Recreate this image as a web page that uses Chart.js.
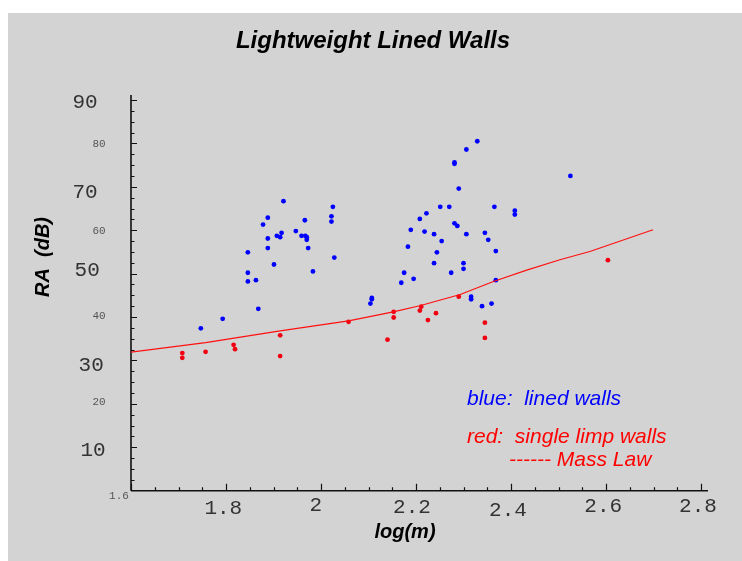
<!DOCTYPE html>
<html>
<head>
<meta charset="utf-8">
<script src="https://cdn.jsdelivr.net/npm/chart.js@4/dist/chart.umd.min.js"></script>
<style>
html,body{margin:0;padding:0;background:#ffffff;}
canvas{display:block;}
</style>
</head>
<body>
<canvas id="c" width="742" height="561"></canvas>
<script>
// ---- data ----
const blueLogM = [1.921,2.025,2.022,2.022,1.888,1.878,1.966,1.947,1.917,1.907,1.914,1.959,1.967,1.970,1.970,1.888,1.888,1.973,1.846,2.028,1.901,1.983,1.846,1.863,1.846,1.868,1.793,1.747,
  2.329,2.306,2.281,2.281,2.525,2.290,2.251,2.270,2.365,2.408,2.408,2.222,2.208,2.189,2.218,2.238,2.281,2.287,2.306,2.345,2.352,2.254,2.183,2.244,2.368,2.238,2.300,2.300,2.175,2.274,2.195,2.169,2.368,2.107,2.107,2.104,2.316,2.316,2.339,2.359];
const blueRA = [66.7,65.4,63.2,62.0,62.9,61.3,62.3,59.8,59.4,58.7,58.4,58.7,58.7,58.4,57.8,58.1,55.9,55.9,54.9,53.7,52.1,50.5,50.2,48.5,48.2,41.9,39.6,37.4,
  80.5,78.6,75.6,75.3,72.5,69.6,65.4,65.4,65.4,64.5,63.6,63.9,62.6,60.1,59.7,59.1,61.6,61.0,59.1,59.4,57.8,57.5,56.2,54.9,55.2,52.4,52.4,51.1,50.2,50.2,48.8,47.9,48.5,44.4,44.1,43.1,44.7,44.1,42.5,43.1];
const redLogM = [1.708,1.708,1.757,1.816,1.819,1.914,1.914,2.058,2.140,2.153,2.153,2.211,2.208,2.242,2.225,2.290,2.345,2.345,2.604];
const redRA   = [31.7,30.6,32.0,33.6,32.6,35.8,31.0,38.9,34.8,41.2,39.9,42.4,41.5,40.9,39.3,44.7,38.7,35.2,53.1];
const massLawLogM = [1.6,1.757,1.914,2.058,2.152,2.208,2.293,2.363,2.433,2.503,2.566,2.699];
const massLawRA   = [31.9,34.1,36.8,39.1,41.2,42.6,45.2,48.2,50.8,53.2,55.1,60.1];
const xTickLabels = [1.8, 2, 2.2, 2.4, 2.6, 2.8];
const xOriginLabel = '1.6';
const yBigLabels = [90, 70, 50, 30, 10];
const ySmallLabels = [80, 60, 40, 20];
const titleText = 'Lightweight Lined Walls';
const xTitle = 'log(m)';
const yTitle = 'RA  (dB)';
const noteBlue = 'blue:  lined walls';
const noteRed = 'red:  single limp walls';
const noteMass = '------ Mass Law';

const toPts = (xs, ys) => xs.map((x, i) => ({x: x, y: ys[i]}));

// ---- styles / label nudges ----
const xLabelDx = [-2.7, -5.3, -4, -3, -2.8, -3];
const xLabelCy = [16.8, 13.8, 15.3, 19, 14.3, 14.3];
const yBigDx = [-46, -46, -43.8, -39.8, -38];
const yBigDy = [1.5, 5, -4.4, 4, 2.7];
const ySmallDy = [0, 0, -1.4, -2];
const SANS = '"Liberation Sans", Arial, Helvetica, sans-serif';
const MONO = '"Liberation Mono", "Courier New", monospace';

const bgPlugin = {
  id: 'bg',
  beforeDraw(chart) {
    const c = chart.ctx;
    c.save();
    c.fillStyle = '#ffffff';
    c.fillRect(0, 0, chart.width, chart.height);
    c.fillStyle = '#d3d3d3';
    c.fillRect(8, 13, chart.width - 8, chart.height - 13);
    c.restore();
  }
};

const axesPlugin = {
  id: 'axesDraw',
  beforeDatasetsDraw(chart) {
    const c = chart.ctx, xs = chart.scales.x, ys = chart.scales.y;
    const x0 = xs.left, y0 = ys.bottom;
    c.save();
    c.strokeStyle = '#111111';
    c.lineWidth = 1.6;
    c.beginPath();
    c.moveTo(x0, ys.top); c.lineTo(x0, y0);
    c.moveTo(x0, y0); c.lineTo(xs.right, y0);
    c.stroke();
    c.lineWidth = 1.2;
    c.beginPath();
    for (let i = 1; i <= 36; i++) {
      const py = Math.round(ys.getPixelForValue(i * 2.5)) + 0.5;
      const len = (i % 4 === 0) ? 6 : 3.5;
      c.moveTo(x0, py); c.lineTo(x0 + len, py);
    }
    for (let i = 0; i <= 24; i++) {
      const px = Math.round(xs.getPixelForValue(1.6 + i * 0.05)) + 0.5;
      const len = (i % 4 === 0) ? 7 : 3.5;
      c.moveTo(px, y0); c.lineTo(px, y0 - len);
    }
    c.stroke();
    c.restore();
  },
  afterDatasetsDraw(chart) {
    const c = chart.ctx, xs = chart.scales.x, ys = chart.scales.y;
    const x0 = xs.left, y0 = ys.bottom;
    c.save();
    // title
    c.fillStyle = '#000000';
    c.textAlign = 'center';
    c.textBaseline = 'alphabetic';
    c.font = 'italic bold 24px ' + SANS;
    c.fillText(titleText, 373, 48);
    // x title
    c.font = 'italic bold 20px ' + SANS;
    c.fillText(xTitle, 405, 537.5);
    // y title
    c.save();
    c.translate(49, 257);
    c.rotate(-Math.PI / 2);
    c.fillText(yTitle, 0, 0);
    c.restore();
    // x tick labels
    c.fillStyle = '#333333';
    c.font = '21px ' + MONO;
    xTickLabels.forEach((v, i) => {
      const px = xs.getPixelForValue(v) + xLabelDx[i];
      c.fillText(String(v), px, y0 + xLabelCy[i] + 6.5);
    });
    // y big labels
    yBigLabels.forEach((v, i) => {
      const py = ys.getPixelForValue(v) + yBigDy[i];
      c.fillText(String(v), x0 + yBigDx[i], py + 6.5);
    });
    // small labels
    c.fillStyle = '#555555';
    c.font = '11px ' + MONO;
    ySmallLabels.forEach((v, i) => {
      const py = ys.getPixelForValue(v) + ySmallDy[i];
      c.fillText(String(v), x0 - 32, py + 3.5);
    });
    c.fillText(xOriginLabel, x0 - 12, y0 + 8.3);
    // notes
    c.textAlign = 'left';
    c.font = 'italic 21px ' + SANS;
    c.fillStyle = '#0000ff';
    c.fillText(noteBlue, 467, 405);
    c.fillStyle = '#ff0000';
    c.fillText(noteRed, 467, 443);
    c.fillText(noteMass, 509, 466);
    c.restore();
  }
};

new Chart(document.getElementById('c'), {
  type: 'scatter',
  data: {
    datasets: [
      {
        label: 'Mass Law',
        data: toPts(massLawLogM, massLawRA),
        showLine: true,
        borderColor: '#ff1010',
        borderWidth: 1.2,
        pointRadius: 0,
        tension: 0,
        fill: false
      },
      {
        label: 'single limp walls',
        data: toPts(redLogM, redRA),
        backgroundColor: '#f00010',
        borderWidth: 0,
        pointRadius: 2.4
      },
      {
        label: 'lined walls',
        data: toPts(blueLogM, blueRA),
        backgroundColor: '#0000ff',
        borderWidth: 0,
        pointRadius: 2.4
      }
    ]
  },
  options: {
    responsive: false,
    animation: false,
    devicePixelRatio: 1,
    layout: { padding: { left: 131, top: 95, right: 34, bottom: 70.3 } },
    plugins: {
      legend: { display: false },
      title: { display: false },
      tooltip: { enabled: false }
    },
    scales: {
      x: { type: 'linear', min: 1.6, max: 2.8147, display: false },
      y: { type: 'linear', min: 0, max: 91.15, display: false }
    }
  },
  plugins: [bgPlugin, axesPlugin]
});
</script>
</body>
</html>
